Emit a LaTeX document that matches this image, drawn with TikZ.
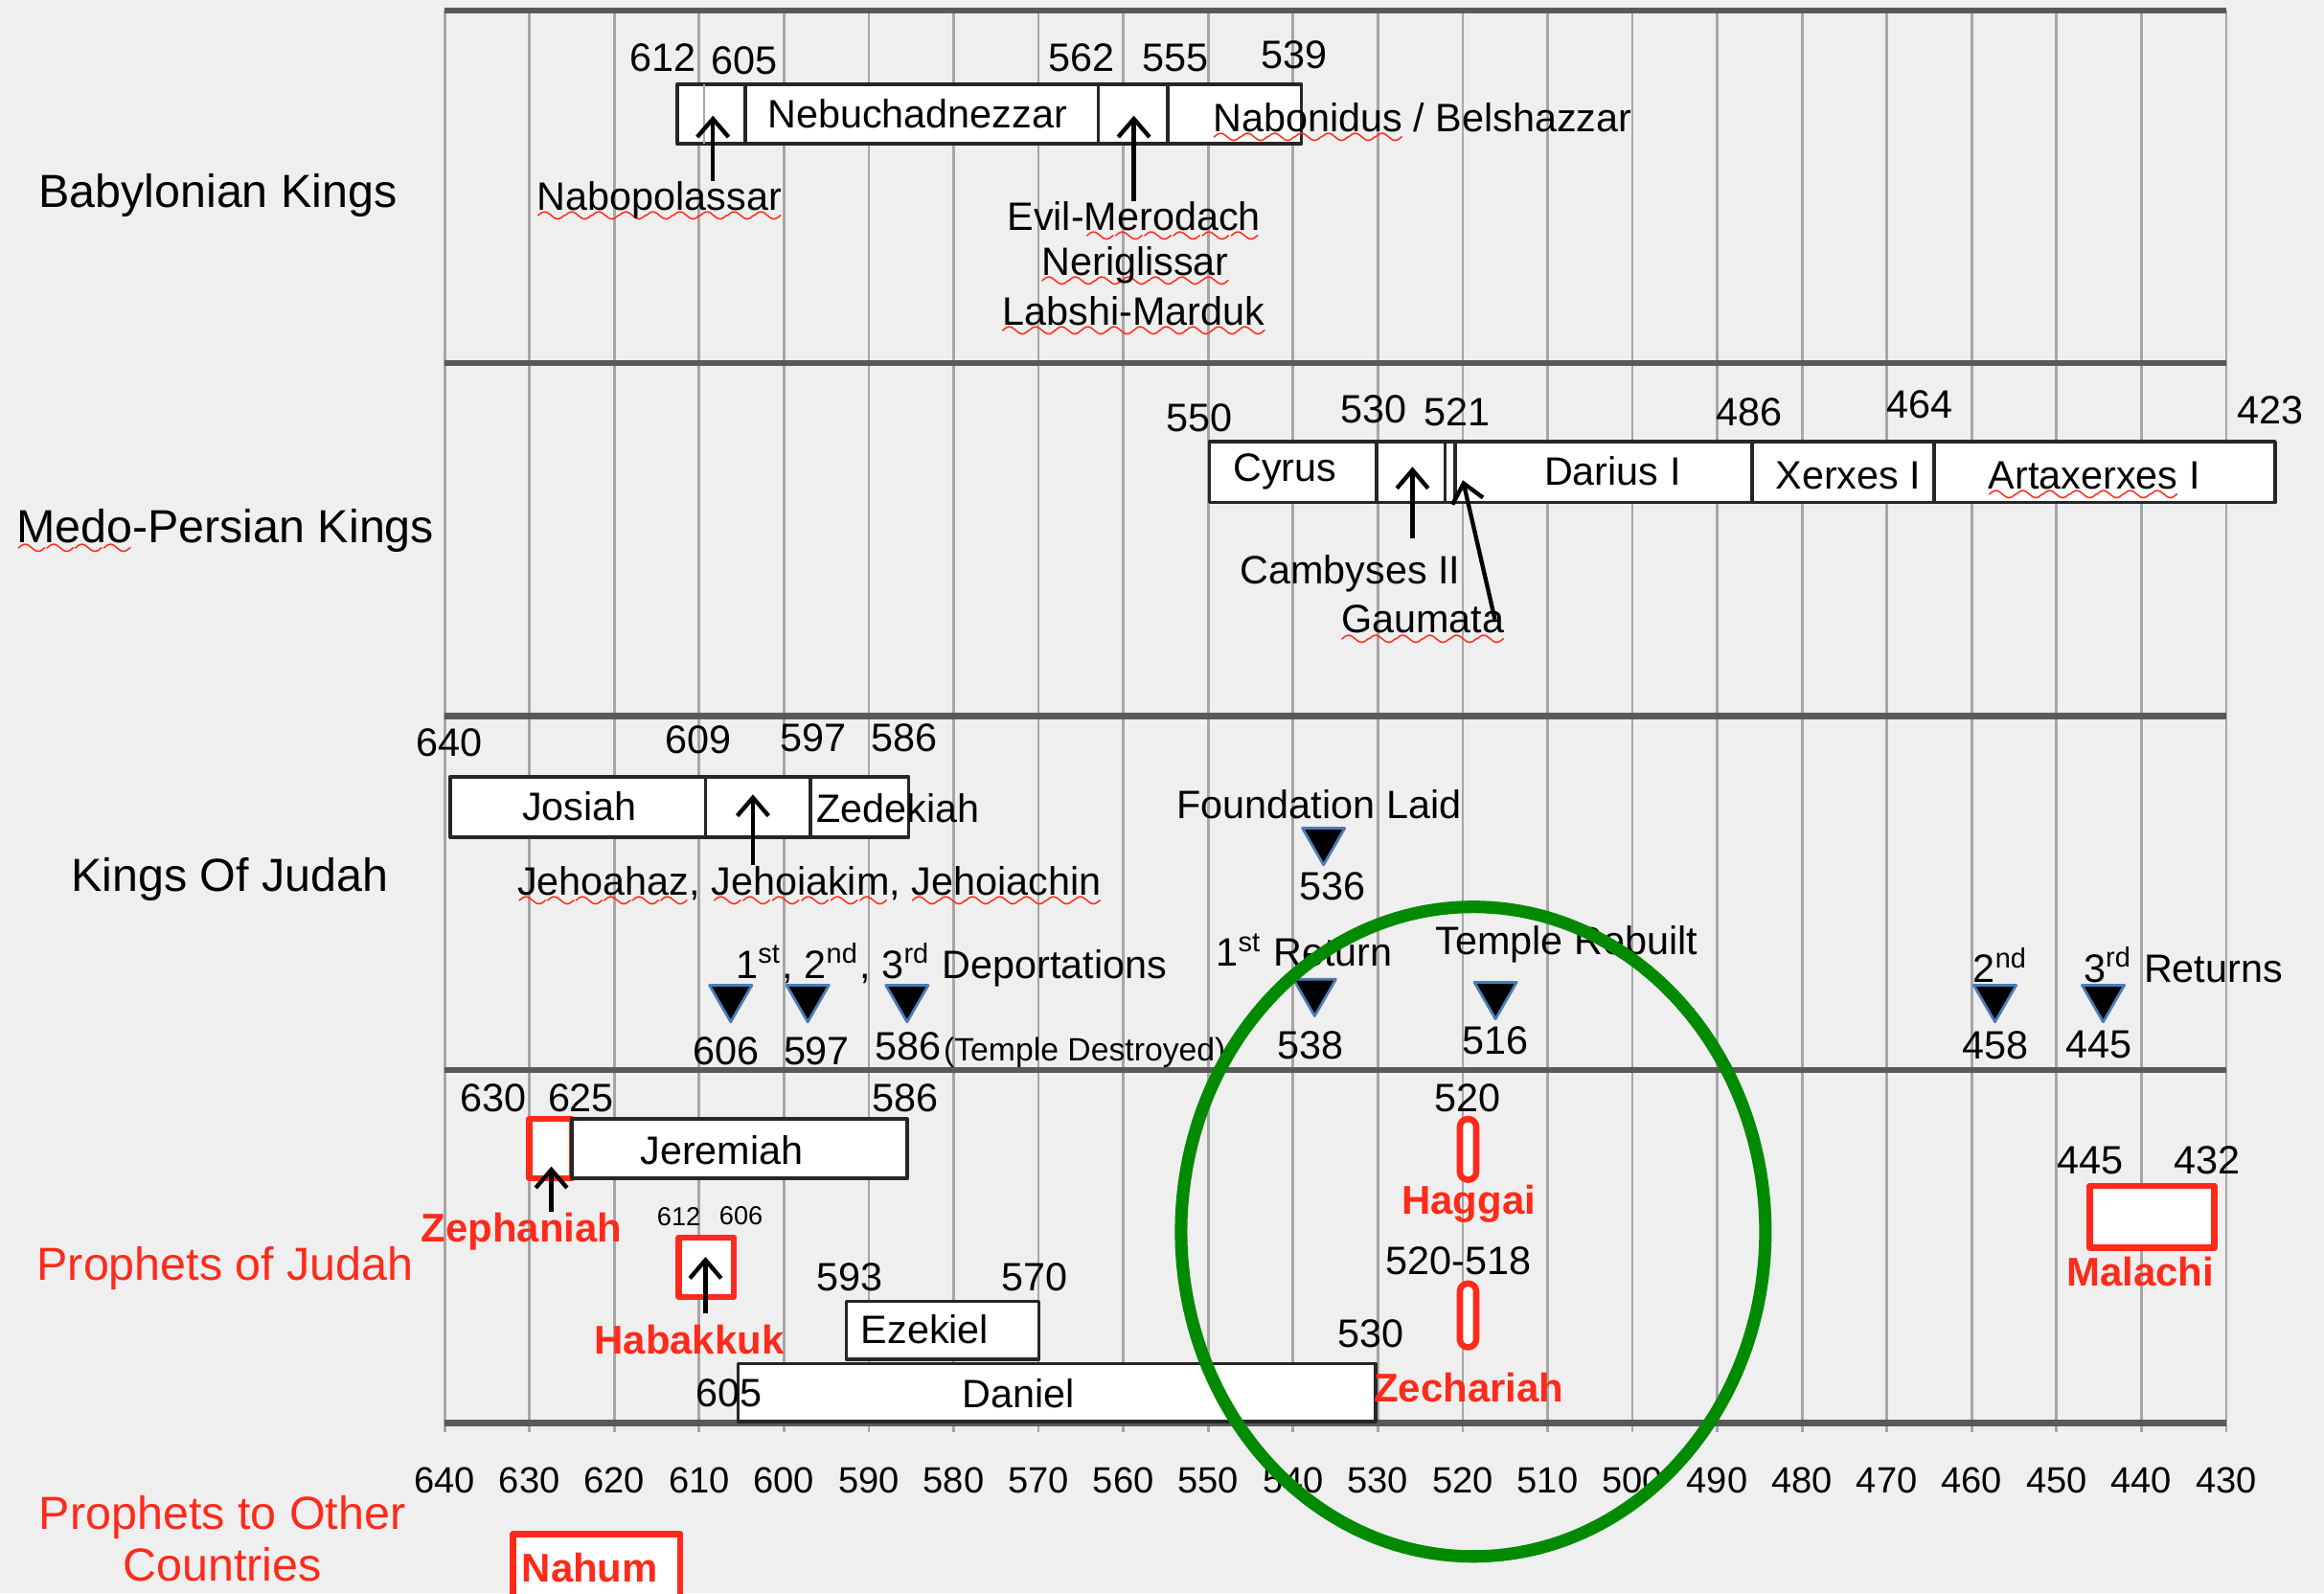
\documentclass[tikz,border=0pt]{standalone}
\usepackage{fontspec}
\setmainfont{Liberation Sans}
\usetikzlibrary{arrows.meta,shapes.geometric}
\definecolor{paper}{HTML}{EFEFEF}
\definecolor{marker}{HTML}{FF2A1A}
\definecolor{halo}{HTML}{008A00}
\definecolor{glint}{HTML}{4A7DB5}
% red wavy line under unknown words
\newsavebox\spellbox
\font\wavefont=lasy6
\newcommand\spell[1]{\sbox\spellbox{#1}\leavevmode\rlap{\raisebox{-2.6pt}[0pt][0pt]{\color{marker}\hbox to \wd\spellbox{\xleaders\hbox{\wavefont\char58}\hfil}}}\usebox\spellbox}
% x position of a year (BC)
\newcommand\yearx[1]{300+(640-#1)*5.724}
\tikzset{
  every node/.append style={inner sep=0pt},
  gridline/.style={black!35, line width=0.5pt},
  rowline/.style={black!65, line width=1.2pt},
  reign/.style={draw=black!85, fill=white, line width=0.7pt},
  seer/.style={draw=marker, fill=white, line width=1.2pt},
  divider/.style={black!85, line width=0.7pt},
  rowname/.style={font=\fontsize{8.9}{10}\selectfont},
  prophet/.style={text=marker, font=\fontsize{7.7}{9}\selectfont\bfseries},
  year/.style={},
  smallyear/.style={font=\fontsize{5}{6}\selectfont},
  event/.style={regular polygon, regular polygon sides=3, shape border rotate=180,
    minimum size=0.33cm, fill=black, draw=glint, line width=0.5pt},
  pointer/.style={->, line width=0.8pt},
  ring/.style={draw=halo, line width=2.4pt},
}
\begin{document}
\begin{tikzpicture}[x=0.01cm, y=-0.01cm, font=\fontsize{7.6}{9}\selectfont, line join=round, >={Straight Barb[length=3.5pt,width=6pt]}]
% page
\fill[paper] (0,0) rectangle (1568,1075);
\clip (0,0) rectangle (1568,1075);
% grid and year axis
\foreach \yr in {640,630,...,430}{
  \draw[gridline] ({\yearx{\yr}},7) -- ({\yearx{\yr}},966);
  \node[year, font=\fontsize{7}{8}\selectfont] (ax\yr) at ({\yearx{\yr}},999) {\yr};
}
\foreach \ry in {7,245,483,722,960}
  \draw[rowline] (300,\ry) -- (1502,\ry);

% row names
\node[rowname] (babylon) at (147,132) {Babylonian Kings};
\node[rowname] (persia) at (152,358) {\spell{Medo}-Persian Kings};
\node[rowname] (judah) at (155,593) {Kings Of Judah};
\node[rowname, text=marker] (prophets) at (152,856) {Prophets of Judah};
\node[rowname, text=marker, align=center] (others) at (150,1038) {Prophets to Other\\Countries};

% Babylonian kings
\draw[reign] (457,57) rectangle (878,97);
\draw[gridline] (475,57) -- (475,97);
\foreach \dx in {503,741,788} \draw[divider] (\dx,57) -- (\dx,97);
\node (nebu) at (619,77) {Nebuchadnezzar};
\node[anchor=west] (nabon) at (818,79) {\spell{Nabonidus} / Belshazzar};
\foreach \lab/\px/\py in {612/447/39, 605/502/41, 562/730/39, 555/793/39, 539/873/37}
  \node[year] (b\lab) at (\px,\py) {\lab};
\node (nabopol) at (445,135) {\spell{Nabopolassar}};
\node (evil) at (765,146) {Evil-\spell{Merodach}};
\node (nerig) at (766,179) {\spell{Neriglissar}};
\node (labshi) at (765,210) {\spell{Labshi-Marduk}};
\coordinate (nabotip) at (481,78);
\coordinate (eviltip) at (765,78);
\draw[pointer] (nabopol.north -| nabotip) -- (nabotip);
\draw[pointer] (evil.north -| eviltip) -- (eviltip);

% Medo-Persian kings
\draw[reign] (816,298) rectangle (1535,339);
\foreach \dx in {929,975,982,1182,1305} \draw[divider] (\dx,298) -- (\dx,339);
\node (cyrus) at (867,318) {Cyrus};
\node (darius) at (1088,318) {Darius I};
\node (xerxes) at (1247,321) {Xerxes I};
\node (artax) at (1413,321) {\spell{Artaxerxes} I};
\foreach \lab/\px/\py in {550/809/282, 530/927/276, 521/983/278, 486/1180/278, 464/1295/273, 423/1532/277}
  \node[year] (m\lab) at (\px,\py) {\lab};
\node (cambyses) at (911,387) {Cambyses II};
\node (gaumata) at (960,418) {\spell{Gaumata}};
\coordinate (camtip) at (953,315);
\coordinate (gautip) at (987,324);
\draw[pointer, shorten <=3pt] (cambyses.north -| camtip) -- (camtip);
\draw[pointer] ([xshift=-2pt]gaumata.east) -- (gautip);

% kings of Judah
\draw[reign] (304,524) rectangle (613,565);
\foreach \dx in {476,547} \draw[divider] (\dx,524) -- (\dx,565);
\node (josiah) at (391,544) {Josiah};
\node (zedek) at (606,545) {Zedekiah};
\foreach \lab/\px/\py in {640/303/501, 609/471/499, 597/549/498, 586/610/498}
  \node[year] (j\lab) at (\px,\py) {\lab};
\node (sons) at (546,596) {\spell{Jehoahaz}, \spell{Jehoiakim}, \spell{Jehoiachin}};
\coordinate (sontip) at (508,536);
\draw[pointer] (sons.north -| sontip) -- (sontip);

% foundation of the temple
\node (found) at (890,543) {Foundation Laid};
\node[event] (tri536) at (893,567) {};
\node[year] (j536) at (899,598) {536};

% deportations
\node[anchor=west] (deport) at (496,651) {1\textsuperscript{st}, 2\textsuperscript{nd}, 3\textsuperscript{rd} Deportations};
\foreach \lab/\px in {606/493, 597/545, 586/612}
  \node[event] (tri\lab) at (\px,673) {};
\node[year] (d606) at (490,709) {606};
\node[year] (d597) at (551,709) {597};
\node[year] (d586) at (613,706) {586};
\node[anchor=west, font=\fontsize{6.2}{7}\selectfont] (ruin) at (636,710) {(Temple Destroyed)};

% returns
\node (ret1) at (880,641) {1\textsuperscript{st} Return};
\node[event] (tri538) at (887,669) {};
\node[year] (r538) at (884,705) {538};
\node (rebuilt) at (1057,637) {Temple Rebuilt};
\node[event] (tri516) at (1009,671) {};
\node[year] (r516) at (1009,702) {516};
\node (ret2) at (1350,651) {2\textsuperscript{nd}};
\node (ret3) at (1473,651) {3\textsuperscript{rd} Returns};
\node[event] (tri458) at (1346,673) {};
\node[event] (tri445) at (1419,673) {};
\node[year] (r458) at (1346,705) {458};
\node[year] (r445) at (1416,705) {445};

% prophets of Judah
\draw[seer] (357,755) rectangle (386,795);
\draw[reign] (386,755) rectangle (612,795);
\node (jerem) at (487,776) {Jeremiah};
\foreach \lab/\px/\py in {630/333/741, 625/392/741, 586/611/741}
  \node[year] (p\lab) at (\px,\py) {\lab};
\node[prophet] (zeph) at (352,831) {Zephaniah};
\coordinate (zephtip) at (372,787);
\draw[pointer] (zeph.north -| zephtip) -- (zephtip);

\node[smallyear] (h612) at (458,821) {612};
\node[smallyear] (h606) at (500,820) {606};
\draw[seer] (458,835) rectangle (495,875);
\coordinate (habtip) at (476,848);
\node[prophet] (habak) at (465,904) {Habakkuk};
\draw[pointer, shorten <=2pt] (habak.north -| habtip) -- (habtip);

\draw[reign] (571,878) rectangle (701,917);
\node (ezek) at (624,897) {Ezekiel};
\node[year] (p593) at (573,862) {593};
\node[year] (p570) at (698,862) {570};
\draw[reign] (498,920) rectangle (928,959);
\node (daniel) at (687,940) {Daniel};
\node[year] (p605) at (492,940) {605};
\node[year] (p530) at (925,900) {530};

\node[year] (p520) at (990,741) {520};
\draw[seer, rounded corners=1.5pt] (985,755) rectangle (996,796);
\node[prophet] (haggai) at (991,812) {Haggai};
\node[year] (p518) at (984,851) {520-518};
\draw[seer, rounded corners=1.5pt] (985,866) rectangle (996,909);
\node[prophet] (zech) at (991,936) {Zechariah};

\node[year] (p445) at (1410,783) {445};
\node[year] (p432) at (1489,783) {432};
\draw[seer] (1410,800) rectangle (1494,842);
\node[prophet] (malachi) at (1444,858) {Malachi};

% prophets to other countries
\draw[seer] (346,1035) rectangle (459,1085);
\node[prophet] (nahum) at (398,1058) {Nahum};

% the circled years
\draw[ring] (994,831) ellipse [x radius=1.97cm, y radius=2.19cm];
\end{tikzpicture}
\end{document}
